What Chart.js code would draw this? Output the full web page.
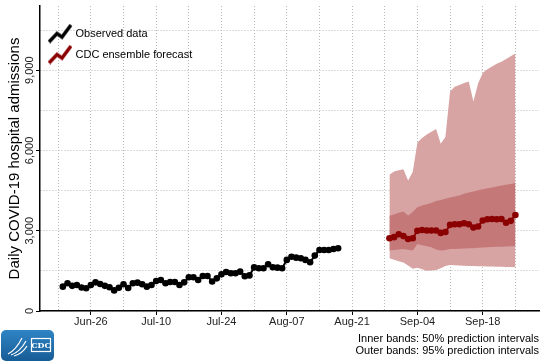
<!DOCTYPE html>
<html>
<head>
<meta charset="utf-8">
<script src="https://cdn.jsdelivr.net/npm/chart.js@4.4.0/dist/chart.umd.min.js"></script>
<style>
  html, body { margin: 0; padding: 0; background: #fff; }
</style>
</head>
<body>
<canvas id="chart" width="546" height="364"></canvas>
<script>
const FONT = "'Liberation Sans', Arial, Helvetica, sans-serif";

// x axis: days counted from Jun-26
const tickDays = [0, 14, 28, 42, 56, 70, 84];
const tickLabels = ['Jun-26', 'Jul-10', 'Jul-24', 'Aug-07', 'Aug-21', 'Sep-04', 'Sep-18'];
const gridDays = [-7, 0, 7, 14, 21, 28, 35, 42, 49, 56, 63, 70, 77, 84, 91];

// y axis
const yTicks = [0, 3000, 6000, 9000];
const yGrid = [0, 1500, 3000, 4500, 6000, 7500, 9000, 10500];

// observed daily admissions, Jun-20 .. Aug-18
const observedStart = -6;
const observed = [910, 1035, 940, 970, 880, 850, 970, 1070, 1010, 940,
  890, 770, 870, 1000, 860, 1035, 1060, 1000, 910, 970,
  1120, 1160, 1035, 1085, 1085, 970, 1070, 1260, 1260, 1160,
  1310, 1310, 1100, 1220, 1370, 1460, 1410, 1410, 1470, 1300,
  1330, 1630, 1600, 1600, 1750, 1635, 1620, 1600, 1910, 2030,
  1995, 1970, 1910, 1820, 2070, 2280, 2280, 2280, 2320, 2345];

// ensemble forecast, Aug-29 .. Sep-25
const forecastStart = 64;
const median = [2720, 2760, 2870, 2800, 2690, 2720, 3000, 3030, 3010, 3010,
  3010, 2920, 2950, 3220, 3240, 3240, 3280, 3240, 3120, 3160,
  3380, 3430, 3440, 3430, 3440, 3300, 3370, 3590];
const upper95 = [5090, 5210, 5260, 5300, 4880, 5200, 6300, 6470, 6600, 6700,
  6800, 6250, 6500, 8200, 8380, 8450, 8520, 8580, 7830, 8500,
  8900, 9040, 9140, 9240, 9320, 9420, 9520, 9620];
const upper50 = [3560, 3610, 3670, 3720, 3570, 3700, 3880, 3940, 3990, 4040,
  4110, 4150, 4200, 4240, 4280, 4320, 4380, 4430, 4470, 4510,
  4550, 4590, 4620, 4650, 4690, 4720, 4750, 4780];
const lower50 = [2260, 2280, 2300, 2320, 2290, 2260, 2500, 2460, 2420, 2380,
  2300, 2260, 2280, 2320, 2320, 2330, 2340, 2350, 2350, 2360,
  2370, 2380, 2390, 2400, 2400, 2410, 2420, 2430];
const lower95 = [1970, 1920, 1860, 1810, 1700, 1580, 1620, 1560, 1500, 1510,
  1530, 1600, 1680, 1720, 1710, 1700, 1690, 1680, 1680, 1670,
  1670, 1660, 1660, 1650, 1650, 1640, 1640, 1635];

const RED = '#8b0000';
const OUTER = '#d8a3a3';
const INNER = '#c57878';
const GRID = '#b8b8b8';

const toPoints = (arr, start) => arr.map((v, i) => ({ x: start + i, y: v }));

// little zigzag icon for the legend
function zigzag(color) {
  const c = document.createElement('canvas');
  c.width = 24;
  c.height = 20;
  const g = c.getContext('2d');
  g.strokeStyle = color;
  g.lineWidth = 3.5;
  g.beginPath();
  g.moveTo(1, 18.5);
  g.lineTo(9, 10);
  g.lineTo(14, 13.5);
  g.lineTo(23, 1.5);
  g.stroke();
  return c;
}

// rotated y tick labels
const yTickLabels = {
  id: 'yTickLabels',
  afterDraw(chart) {
    const { ctx, chartArea, scales: { y } } = chart;
    ctx.save();
    ctx.font = '11px ' + FONT;
    ctx.fillStyle = '#222';
    ctx.textAlign = 'center';
    ctx.textBaseline = 'middle';
    yTicks.forEach(v => {
      ctx.save();
      ctx.translate(chartArea.left - 10.5, y.getPixelForValue(v));
      ctx.rotate(-Math.PI / 2);
      ctx.fillText(v.toLocaleString('en-US'), 0, 0);
      ctx.restore();
    });
    ctx.restore();
  }
};

// CDC badge in the bottom left corner
const cdcLogo = {
  id: 'cdcLogo',
  afterDraw(chart) {
    const ctx = chart.ctx;
    ctx.save();
    const grad = ctx.createLinearGradient(0, 330, 0, 362);
    grad.addColorStop(0, '#2f84c4');
    grad.addColorStop(1, '#165b94');
    ctx.fillStyle = grad;
    ctx.beginPath();
    ctx.roundRect(1, 330, 53, 31, 5);
    ctx.fill();
    ctx.strokeStyle = '#fff';
    ctx.lineWidth = 1.2;
    ctx.beginPath();
    ctx.moveTo(8, 354);
    ctx.quadraticCurveTo(16, 350, 22, 338);
    ctx.moveTo(11, 355);
    ctx.quadraticCurveTo(20, 352, 26, 341);
    ctx.moveTo(14, 356);
    ctx.quadraticCurveTo(22, 354, 27, 346);
    ctx.stroke();
    ctx.strokeRect(31.5, 338.5, 19, 13);
    ctx.fillStyle = '#fff';
    ctx.font = 'bold 8px "DejaVu Serif", serif';
    ctx.textAlign = 'center';
    ctx.textBaseline = 'middle';
    ctx.fillText('CDC', 41, 345.5);
    ctx.restore();
  }
};

Chart.defaults.font.family = FONT;

new Chart(document.getElementById('chart'), {
  type: 'line',
  data: {
    datasets: [
      {
        label: 'Observed data',
        data: toPoints(observed, observedStart),
        borderColor: '#000',
        backgroundColor: '#000',
        borderWidth: 2,
        pointRadius: 3.3,
        pointBorderWidth: 0,
        fill: false
      },
      {
        label: 'CDC ensemble forecast',
        data: toPoints(median, forecastStart),
        borderColor: RED,
        backgroundColor: RED,
        borderWidth: 2,
        pointRadius: 3.3,
        pointBorderWidth: 0,
        fill: false
      },
      {
        label: '50% upper',
        data: toPoints(upper50, forecastStart),
        borderWidth: 0,
        pointRadius: 0,
        backgroundColor: INNER,
        fill: '+1'
      },
      {
        label: '50% lower',
        data: toPoints(lower50, forecastStart),
        borderWidth: 0,
        pointRadius: 0,
        fill: false
      },
      {
        label: '95% upper',
        data: toPoints(upper95, forecastStart),
        borderWidth: 0,
        pointRadius: 0,
        backgroundColor: OUTER,
        fill: '+1'
      },
      {
        label: '95% lower',
        data: toPoints(lower95, forecastStart),
        borderWidth: 0,
        pointRadius: 0,
        fill: false
      }
    ]
  },
  options: {
    responsive: false,
    animation: false,
    layout: { padding: { left: 0, right: 7, top: 6, bottom: 0 } },
    scales: {
      x: {
        type: 'linear',
        min: -10.9,
        max: 96.06,
        afterBuildTicks: s => { s.ticks = gridDays.map(v => ({ value: v })); },
        grid: {
          color: GRID,
          lineWidth: 1,
          tickLength: 4,
          tickWidth: 1,
          tickColor: c => tickDays.includes(c.tick.value) ? '#000' : 'transparent'
        },
        border: { color: '#000', width: 1.5, dash: [1, 2] },
        ticks: {
          autoSkip: false,
          maxRotation: 0,
          padding: 0,
          color: '#222',
          font: { size: 11 },
          callback: v => {
            const i = tickDays.indexOf(v);
            return i < 0 ? '' : tickLabels[i];
          }
        }
      },
      y: {
        min: 0,
        max: 11400,
        afterBuildTicks: s => { s.ticks = yGrid.map(v => ({ value: v })); },
        afterFit: s => { s.width = 40; },
        grid: {
          color: GRID,
          lineWidth: 1,
          tickLength: 4,
          tickWidth: 1,
          tickColor: c => c.tick.value % 3000 === 0 ? '#000' : 'transparent'
        },
        border: { color: '#000', width: 1.5, dash: [1, 2] },
        ticks: { display: false },
        title: {
          display: true,
          text: 'Daily COVID-19 hospital admissions',
          color: '#000',
          font: { size: 15 },
          padding: { top: 6, bottom: 0 }
        }
      }
    },
    plugins: {
      tooltip: { enabled: false },
      legend: {
        position: 'chartArea',
        align: 'start',
        title: { display: true, text: '', padding: 0, font: { size: 15 } },
        labels: {
          color: '#000',
          font: { size: 11 },
          usePointStyle: true,
          pointStyleWidth: 20,
          padding: 10,
          generateLabels: () => [
            { text: 'Observed data', fontColor: '#000', pointStyle: zigzag('#000'), fillStyle: '#000', strokeStyle: 'transparent', lineWidth: 0, hidden: false, datasetIndex: 0 },
            { text: 'CDC ensemble forecast', fontColor: '#000', pointStyle: zigzag(RED), fillStyle: RED, strokeStyle: 'transparent', lineWidth: 0, hidden: false, datasetIndex: 1 }
          ]
        }
      },
      title: {
        display: true,
        position: 'bottom',
        align: 'end',
        text: ['Inner bands: 50% prediction intervals', 'Outer bands: 95% prediction intervals'],
        color: '#000',
        font: { size: 11, weight: 'normal', lineHeight: 1.1 },
        padding: { top: 5, bottom: 6.6 }
      }
    }
  },
  plugins: [yTickLabels, cdcLogo]
});
</script>
</body>
</html>
